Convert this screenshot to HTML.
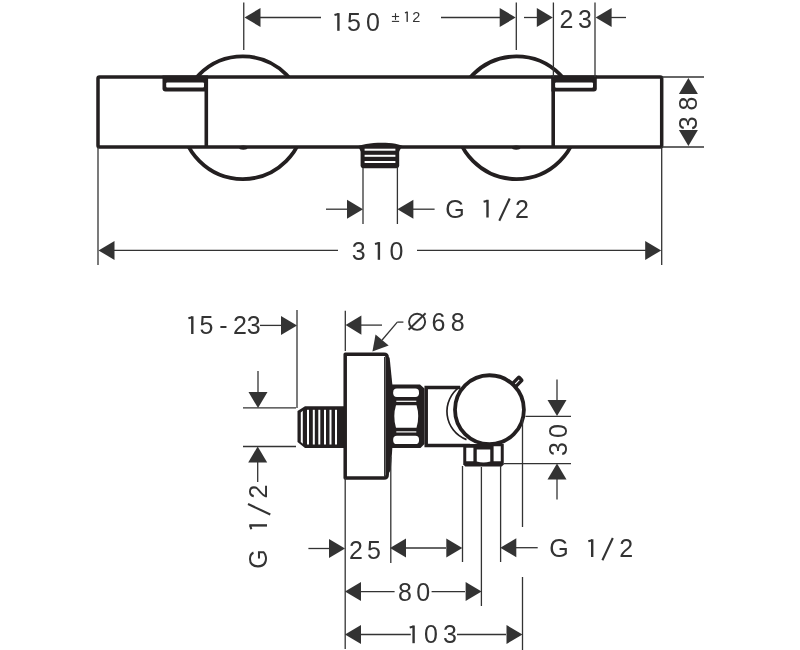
<!DOCTYPE html>
<html><head><meta charset="utf-8"><style>
html,body{margin:0;padding:0;background:#fff;width:800px;height:650px;overflow:hidden}
svg{display:block;will-change:transform}
text{font-family:"Liberation Sans",sans-serif;fill:#333333;stroke:none}
</style></head><body>
<svg width="800" height="650" viewBox="0 0 800 650">
<g stroke="#231f20" fill="none" stroke-linecap="butt">
<circle cx="242.8" cy="117.75" r="61.3" fill="none" stroke-width="3.8"/>
<circle cx="516.5" cy="117.75" r="61.3" fill="none" stroke-width="3.8"/>
<rect x="98" y="77" width="563.7" height="70" rx="1.5" fill="#fff" stroke-width="3.5"/>
<ellipse cx="243.3" cy="147.6" rx="4.3" ry="2.2" fill="#231f20" stroke="none"/>
<ellipse cx="516.2" cy="147.6" rx="4.3" ry="2.2" fill="#231f20" stroke="none"/>
<line x1="206.3" y1="77" x2="206.3" y2="147" stroke-width="3.6" stroke="#231f20"/>
<line x1="553.2" y1="77" x2="553.2" y2="147" stroke-width="3.6" stroke="#231f20"/>
<path d="M162.5,75.5 H208 V91.5 H165.5 Q162.5,91.5 162.5,88.5 Z" fill="#231f20" stroke="none"/>
<rect x="166.2" y="82.6" width="37.8" height="5" rx="1" fill="#fff" stroke="none"/>
<path d="M551.4,75.5 H596.8 V88.6 Q596.8,91.6 593.8,91.6 H551.4 Z" fill="#231f20" stroke="none"/>
<rect x="555.1" y="82.6" width="37.9" height="5.2" rx="1" fill="#fff" stroke="none"/>
<path d="M355,147.5 C364,142 396,140.5 405,147.5 Z" fill="#231f20" stroke="none"/>
<path d="M358.5,147 H401.5 L399.2,151.5 H360.8 Z" fill="#231f20" stroke="none"/>
<rect x="360.6" y="146" width="38.6" height="22.3" rx="3" fill="#231f20" stroke="none"/>
<rect x="364.6" y="148.7" width="30.8" height="2" fill="#fff" stroke="none"/>
<rect x="364.6" y="154.8" width="30.8" height="2" fill="#fff" stroke="none"/>
<rect x="364.6" y="161" width="30.8" height="2" fill="#fff" stroke="none"/>
<line x1="243.75" y1="2.5" x2="243.75" y2="50" stroke-width="1.3" stroke="#333333"/>
<line x1="516.3" y1="2.5" x2="516.3" y2="50" stroke-width="1.3" stroke="#333333"/>
<line x1="553.4" y1="2.5" x2="553.4" y2="77" stroke-width="1.3" stroke="#333333"/>
<line x1="595" y1="2.5" x2="595" y2="77" stroke-width="1.3" stroke="#333333"/>
<line x1="260" y1="17.5" x2="321" y2="17.5" stroke-width="1.3" stroke="#333333"/>
<polygon points="244.50,17.50 260.50,8.00 260.50,27.00" stroke="none" fill="#333333"/>
<line x1="441" y1="17.5" x2="500" y2="17.5" stroke-width="1.3" stroke="#333333"/>
<polygon points="515.70,17.50 499.70,8.00 499.70,27.00" stroke="none" fill="#333333"/>
<line x1="524" y1="17.5" x2="537" y2="17.5" stroke-width="1.3" stroke="#333333"/>
<polygon points="552.80,17.50 536.80,8.00 536.80,27.00" stroke="none" fill="#333333"/>
<line x1="611" y1="17.5" x2="626" y2="17.5" stroke-width="1.3" stroke="#333333"/>
<polygon points="595.60,17.50 611.60,8.00 611.60,27.00" stroke="none" fill="#333333"/>
<rect x="337.20" y="13.10" width="2.40" height="17.70" fill="#333333" stroke="none"/><line x1="334.50" y1="15.10" x2="338.40" y2="14.00" stroke-width="2.10" stroke="#333333"/><text x="354" y="30.8" font-size="25" text-anchor="middle">5</text><text x="373" y="30.8" font-size="25" text-anchor="middle">0</text>
<line x1="391.9" y1="16.5" x2="399.1" y2="16.5" stroke-width="1.1" stroke="#333333"/>
<line x1="395.5" y1="13.2" x2="395.5" y2="19.9" stroke-width="1.1" stroke="#333333"/>
<line x1="391.9" y1="21.4" x2="399.1" y2="21.4" stroke-width="1.1" stroke="#333333"/>
<rect x="406.50" y="11.63" width="1.39" height="10.27" fill="#333333" stroke="none"/><line x1="404.94" y1="12.79" x2="407.20" y2="12.16" stroke-width="1.22" stroke="#333333"/><text x="416.3" y="21.9" font-size="14.5" text-anchor="middle">2</text>
<text x="566.5" y="27.5" font-size="25" text-anchor="middle">2</text><text x="585" y="27.5" font-size="25" text-anchor="middle">3</text>
<line x1="662" y1="77" x2="704" y2="77" stroke-width="1.3" stroke="#333333"/>
<line x1="662" y1="147" x2="704" y2="147" stroke-width="1.3" stroke="#333333"/>
<polygon points="688.40,78.00 678.90,94.00 697.90,94.00" stroke="none" fill="#333333"/>
<polygon points="688.40,146.00 678.90,130.00 697.90,130.00" stroke="none" fill="#333333"/>
<g transform="rotate(-90 688.4 114)"><text x="679.15" y="123" font-size="25" text-anchor="middle">3</text><text x="698.9" y="123" font-size="25" text-anchor="middle">8</text></g>
<line x1="363" y1="168" x2="363" y2="224" stroke-width="1.3" stroke="#333333"/>
<line x1="397.4" y1="168" x2="397.4" y2="224" stroke-width="1.3" stroke="#333333"/>
<line x1="326" y1="209.2" x2="347" y2="209.2" stroke-width="1.3" stroke="#333333"/>
<polygon points="363.00,209.20 347.00,199.70 347.00,218.70" stroke="none" fill="#333333"/>
<line x1="413" y1="209.2" x2="434.6" y2="209.2" stroke-width="1.3" stroke="#333333"/>
<polygon points="397.40,209.20 413.40,199.70 413.40,218.70" stroke="none" fill="#333333"/>
<text x="455" y="217.5" font-size="25" text-anchor="middle">G</text><rect x="486.30" y="199.80" width="2.40" height="17.70" fill="#333333" stroke="none"/><line x1="483.60" y1="201.80" x2="487.50" y2="200.70" stroke-width="2.10" stroke="#333333"/><line x1="499.30" y1="220.80" x2="509.70" y2="198.50" stroke-width="2.1" stroke="#333333"/><text x="522" y="217.5" font-size="25" text-anchor="middle">2</text>
<line x1="98" y1="147" x2="98" y2="265" stroke-width="1.3" stroke="#333333"/>
<line x1="661.7" y1="147" x2="661.7" y2="265" stroke-width="1.3" stroke="#333333"/>
<polygon points="98.50,250.40 114.50,240.90 114.50,259.90" stroke="none" fill="#333333"/>
<polygon points="661.20,250.40 645.20,240.90 645.20,259.90" stroke="none" fill="#333333"/>
<line x1="114" y1="250.4" x2="338" y2="250.4" stroke-width="1.3" stroke="#333333"/>
<line x1="417" y1="250.4" x2="646" y2="250.4" stroke-width="1.3" stroke="#333333"/>
<text x="358.75" y="259.8" font-size="25" text-anchor="middle">3</text><rect x="377.70" y="242.10" width="2.40" height="17.70" fill="#333333" stroke="none"/><line x1="375.00" y1="244.10" x2="378.90" y2="243.00" stroke-width="2.10" stroke="#333333"/><text x="396.5" y="259.8" font-size="25" text-anchor="middle">0</text>
<line x1="297" y1="310" x2="297" y2="408" stroke-width="1.3" stroke="#333333"/>
<line x1="260" y1="325.4" x2="281" y2="325.4" stroke-width="1.3" stroke="#333333"/>
<polygon points="297.00,325.40 281.00,315.90 281.00,334.90" stroke="none" fill="#333333"/>
<rect x="191.10" y="316.30" width="2.40" height="17.70" fill="#333333" stroke="none"/><line x1="188.40" y1="318.30" x2="192.30" y2="317.20" stroke-width="2.10" stroke="#333333"/><text x="206.5" y="334" font-size="25" text-anchor="middle">5</text><text x="223.3" y="334" font-size="25" text-anchor="middle">-</text><text x="240" y="334" font-size="25" text-anchor="middle">2</text><text x="253.7" y="334" font-size="25" text-anchor="middle">3</text>
<line x1="258" y1="371" x2="258" y2="392" stroke-width="1.3" stroke="#333333"/>
<polygon points="258.00,408.00 248.50,392.00 267.50,392.00" stroke="none" fill="#333333"/>
<line x1="243" y1="407.8" x2="296" y2="407.8" stroke-width="1.3" stroke="#333333"/>
<line x1="243" y1="446.5" x2="296" y2="446.5" stroke-width="1.3" stroke="#333333"/>
<polygon points="257.70,446.50 248.20,462.50 267.20,462.50" stroke="none" fill="#333333"/>
<line x1="257.7" y1="462" x2="257.7" y2="482" stroke-width="1.3" stroke="#333333"/>
<g transform="rotate(-90 258 525)"><text x="224.1" y="534" font-size="25" text-anchor="middle">G</text><rect x="256.40" y="516.30" width="2.40" height="17.70" fill="#333333" stroke="none"/><line x1="253.70" y1="518.30" x2="257.60" y2="517.20" stroke-width="2.10" stroke="#333333"/><line x1="268.55" y1="537.30" x2="278.95" y2="515.00" stroke-width="2.1" stroke="#333333"/><text x="291.5" y="534" font-size="25" text-anchor="middle">2</text></g>
<line x1="345.3" y1="310.7" x2="345.3" y2="351" stroke-width="1.3" stroke="#333333"/>
<polygon points="345.60,325.10 361.40,315.50 361.40,334.70" stroke="none" fill="#333333"/>
<line x1="361" y1="325.1" x2="382" y2="325.1" stroke-width="1.3" stroke="#333333"/>
<polygon points="372.4,351.4 388.67,345.54 375.56,334.40" fill="#333333" stroke="none"/>
<line x1="382.1135938758935" y1="339.9699477685269" x2="397.3" y2="322.1" stroke-width="1.3" stroke="#333333"/>
<line x1="397.3" y1="322.1" x2="403.4" y2="322.1" stroke-width="1.3" stroke="#333333"/>
<circle cx="417.1" cy="321.8" r="8.05" fill="none" stroke="#333333" stroke-width="1.9"/>
<line x1="408.6" y1="329.8" x2="425.6" y2="313.2" stroke-width="1.9" stroke="#333333"/>
<text x="438.5" y="331" font-size="25" text-anchor="middle">6</text><text x="457.7" y="331" font-size="25" text-anchor="middle">8</text>
<path d="M305,406.2 H346 V448 H305 L297.5,442 V411 Z" fill="#231f20" stroke="none"/>
<rect x="307" y="409.8" width="2" height="34.7" fill="#fff" stroke="none"/>
<rect x="312.8" y="409.8" width="2" height="34.7" fill="#fff" stroke="none"/>
<rect x="318.3" y="409.8" width="2" height="34.7" fill="#fff" stroke="none"/>
<rect x="324" y="409.8" width="2" height="34.7" fill="#fff" stroke="none"/>
<rect x="329.5" y="409.8" width="2" height="34.7" fill="#fff" stroke="none"/>
<rect x="335" y="409.8" width="2" height="34.7" fill="#fff" stroke="none"/>
<path d="M300.8,412.5 L302.8,410.8 V443.8 L300.8,442 Z" fill="#fff" stroke="none"/>
<path d="M345.2,354.3 H384 Q387.2,354.3 387.2,357.5 V474.8 Q387.2,478 384,478 H345.2 Z" fill="#fff" stroke-width="3.5" stroke-linejoin="round"/>
<path d="M386.5,357.5 H389.6 L392.4,385 V447 L390.8,470 L387,476 Z" fill="#231f20" stroke="none"/>
<line x1="384.7" y1="357" x2="384.7" y2="477" stroke-width="1.4" stroke="#333333"/>
<path d="M391.5,384.5 H420 L424.5,388.5 V444 L420.5,448 H391.5 Z" fill="#231f20" stroke="none"/>
<rect x="393.2" y="388.6" width="25.8" height="8.3" rx="3.6" fill="#fff" stroke="none"/>
<rect x="393.2" y="435.8" width="25.8" height="8.3" rx="3.6" fill="#fff" stroke="none"/>
<path d="M396,405.3 H416.5 Q420,416.5 416.5,427.8 H396 Q392.5,416.5 396,405.3 Z" fill="#fff" stroke="none"/>
<rect x="396.3" y="400.7" width="20" height="1.2" fill="#fff" stroke="none"/>
<rect x="396.3" y="431.3" width="20" height="1.2" fill="#fff" stroke="none"/>
<path d="M460.2,387.4 H426.2 V445.6 H470" fill="none" stroke-width="3.5" stroke-linejoin="miter"/>
<path d="M460.2,386.6 A30,30 0 0,0 466.5,439.6" fill="none" stroke-width="1.7"/>
<g transform="translate(489.45 409.7) rotate(-45)"><rect x="30" y="-3.9" width="15.6" height="7.8" rx="2.6" fill="#231f20" stroke="none"/><rect x="36.3" y="-0.55" width="5.8" height="1.1" fill="#fff" stroke="none"/></g>
<circle cx="489.45" cy="409.7" r="34.45" fill="#fff" stroke-width="3.8"/>
<path d="M463.25,444 H503.75 V464.5 L501.75,466.5 H465.25 L463.25,464.5 Z" fill="#231f20" stroke="none"/>
<rect x="466.25" y="447.75" width="7.15" height="13.5" fill="#fff" stroke="none"/>
<path d="M476.75,449.6 H490.25 V461.5 Q483.5,463.5 476.75,461.5 Z" fill="#fff" stroke="none"/>
<rect x="493.6" y="446.25" width="7.15" height="15" fill="#fff" stroke="none"/>
<line x1="525.5" y1="416.3" x2="571" y2="416.3" stroke-width="1.3" stroke="#333333"/>
<line x1="503.75" y1="463.7" x2="571" y2="463.7" stroke-width="1.3" stroke="#333333"/>
<line x1="557" y1="379.4" x2="557" y2="400" stroke-width="1.3" stroke="#333333"/>
<polygon points="557.00,416.00 547.50,400.00 566.50,400.00" stroke="none" fill="#333333"/>
<polygon points="557.00,463.40 547.50,479.40 566.50,479.40" stroke="none" fill="#333333"/>
<line x1="557" y1="479" x2="557" y2="499.5" stroke-width="1.3" stroke="#333333"/>
<g transform="rotate(-90 557 440)"><text x="548" y="449.5" font-size="25" text-anchor="middle">3</text><text x="566" y="449.5" font-size="25" text-anchor="middle">0</text></g>
<line x1="345.2" y1="478" x2="345.2" y2="649" stroke-width="1.3" stroke="#333333"/>
<line x1="390.8" y1="457" x2="390.8" y2="563" stroke-width="1.3" stroke="#333333"/>
<line x1="462.5" y1="466" x2="462.5" y2="562" stroke-width="1.3" stroke="#333333"/>
<line x1="481.4" y1="467" x2="481.4" y2="606" stroke-width="1.3" stroke="#333333"/>
<line x1="500.6" y1="466" x2="500.6" y2="562" stroke-width="1.3" stroke="#333333"/>
<line x1="522.5" y1="418" x2="522.5" y2="527" stroke-width="1.3" stroke="#333333"/>
<line x1="522.5" y1="577" x2="522.5" y2="650" stroke-width="1.3" stroke="#333333"/>
<line x1="308.4" y1="548.5" x2="329" y2="548.5" stroke-width="1.3" stroke="#333333"/>
<polygon points="345.00,548.50 329.00,539.00 329.00,558.00" stroke="none" fill="#333333"/>
<text x="356" y="559" font-size="25" text-anchor="middle">2</text><text x="374" y="559" font-size="25" text-anchor="middle">5</text>
<polygon points="390.00,548.00 406.00,538.50 406.00,557.50" stroke="none" fill="#333333"/>
<line x1="406" y1="548" x2="446" y2="548" stroke-width="1.3" stroke="#333333"/>
<polygon points="462.30,548.00 446.30,538.50 446.30,557.50" stroke="none" fill="#333333"/>
<polygon points="500.30,547.70 516.30,538.20 516.30,557.20" stroke="none" fill="#333333"/>
<line x1="516" y1="547.7" x2="537.7" y2="547.7" stroke-width="1.3" stroke="#333333"/>
<text x="559" y="557" font-size="25" text-anchor="middle">G</text><rect x="591.00" y="539.30" width="2.40" height="17.70" fill="#333333" stroke="none"/><line x1="588.30" y1="541.30" x2="592.20" y2="540.20" stroke-width="2.10" stroke="#333333"/><line x1="602.40" y1="560.30" x2="612.80" y2="538.00" stroke-width="2.1" stroke="#333333"/><text x="626.3" y="557" font-size="25" text-anchor="middle">2</text>
<polygon points="345.00,591.60 361.00,582.10 361.00,601.10" stroke="none" fill="#333333"/>
<line x1="361" y1="591.6" x2="394.6" y2="591.6" stroke-width="1.3" stroke="#333333"/>
<line x1="431.6" y1="591.6" x2="465" y2="591.6" stroke-width="1.3" stroke="#333333"/>
<polygon points="481.60,591.60 465.60,582.10 465.60,601.10" stroke="none" fill="#333333"/>
<text x="405" y="600.5" font-size="25" text-anchor="middle">8</text><text x="423.2" y="600.5" font-size="25" text-anchor="middle">0</text>
<polygon points="345.00,634.50 361.00,625.00 361.00,644.00" stroke="none" fill="#333333"/>
<line x1="361" y1="634.5" x2="410.8" y2="634.5" stroke-width="1.3" stroke="#333333"/>
<line x1="457" y1="634.5" x2="506" y2="634.5" stroke-width="1.3" stroke="#333333"/>
<polygon points="522.50,634.50 506.50,625.00 506.50,644.00" stroke="none" fill="#333333"/>
<rect x="412.40" y="625.50" width="2.40" height="17.70" fill="#333333" stroke="none"/><line x1="409.70" y1="627.50" x2="413.60" y2="626.40" stroke-width="2.10" stroke="#333333"/><text x="431" y="643.2" font-size="25" text-anchor="middle">0</text><text x="450" y="643.2" font-size="25" text-anchor="middle">3</text>
</g></svg></body></html>
